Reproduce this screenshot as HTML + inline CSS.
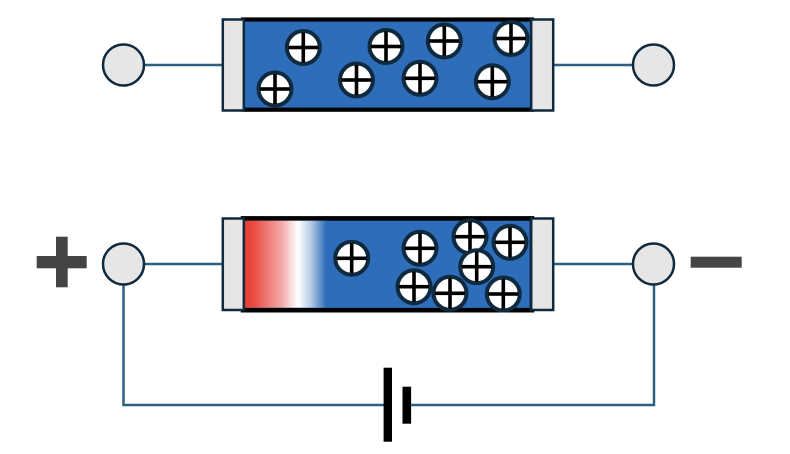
<!DOCTYPE html>
<html>
<head>
<meta charset="utf-8">
<style>
  html, body { margin:0; padding:0; background:#ffffff; }
  body { width:790px; height:454px; overflow:hidden; font-family:"Liberation Sans", sans-serif; }
  svg { display:block; }
</style>
</head>
<body>
<svg width="790" height="454" viewBox="0 0 790 454" xmlns="http://www.w3.org/2000/svg">
  <defs>
    <linearGradient id="grad" x1="244" y1="0" x2="326" y2="0" gradientUnits="userSpaceOnUse">
      <stop offset="0" stop-color="#e8392e"/>
      <stop offset="0.12" stop-color="#eb4d44"/>
      <stop offset="0.45" stop-color="#f3a6a6"/>
      <stop offset="0.66" stop-color="#ffffff"/>
      <stop offset="0.82" stop-color="#b3cbe6"/>
      <stop offset="1" stop-color="#2e6db9"/>
    </linearGradient>
    <g id="p">
      <circle cx="0" cy="0" r="16.5" fill="#ffffff" stroke="#0f2a3f" stroke-width="4"/>
      <rect x="-15" y="-1.8" width="30" height="3.6" fill="#000"/>
      <rect x="-1.8" y="-15" width="3.6" height="30" fill="#000"/>
    </g>
  </defs>

  <!-- ============ TOP ============ -->
  <line x1="145" y1="65" x2="223" y2="65" stroke="#2d5f80" stroke-width="2.5"/>
  <line x1="553" y1="65" x2="633" y2="65" stroke="#2d5f80" stroke-width="2.5"/>
  <circle cx="123.5" cy="65" r="20.5" fill="#e6e6e6" stroke="#0f2a3f" stroke-width="2.5"/>
  <circle cx="653.5" cy="65" r="20.5" fill="#e6e6e6" stroke="#0f2a3f" stroke-width="2.5"/>

  <rect x="243" y="19.5" width="289" height="90.2" fill="#2e6db9" stroke="#000" stroke-width="4.2"/>

  <use href="#p" x="303.3" y="47.5"/>
  <use href="#p" x="275" y="89"/>
  <use href="#p" x="356.5" y="80"/>
  <use href="#p" x="386" y="46.5"/>
  <use href="#p" x="420" y="78.3"/>
  <use href="#p" x="444.3" y="41"/>
  <use href="#p" x="492.3" y="81.7"/>
  <use href="#p" x="511" y="38.5"/>

  <rect x="222.8" y="19.5" width="21" height="91" fill="#e6e6e6" stroke="#0f2a3f" stroke-width="2.5"/>
  <rect x="531.2" y="19.5" width="22" height="91" fill="#e6e6e6" stroke="#0f2a3f" stroke-width="2.5"/>

  <!-- ============ BOTTOM ============ -->
  <!-- circuit wires -->
  <polyline points="123.5,285 123.5,405 386,405" fill="none" stroke="#2d5f80" stroke-width="2.5"/>
  <polyline points="408,405 654,405 654,285" fill="none" stroke="#2d5f80" stroke-width="2.5"/>
  <line x1="145" y1="264" x2="223" y2="264" stroke="#2d5f80" stroke-width="2.5"/>
  <line x1="553" y1="264" x2="633" y2="264" stroke="#2d5f80" stroke-width="2.5"/>
  <circle cx="123.5" cy="264" r="20.5" fill="#e6e6e6" stroke="#0f2a3f" stroke-width="2.5"/>
  <circle cx="653.5" cy="264" r="20.5" fill="#e6e6e6" stroke="#0f2a3f" stroke-width="2.5"/>

  <!-- plus / minus signs -->
  <rect x="36.7" y="256" width="50" height="12.3" fill="#444444"/>
  <rect x="56" y="236.7" width="11.7" height="50.6" fill="#444444"/>
  <rect x="690.7" y="256.7" width="51" height="11" fill="#444444"/>

  <!-- box -->
  <rect x="243" y="218.4" width="289" height="91.8" fill="#2e6db9" stroke="#000" stroke-width="4.6"/>
  <rect x="245" y="220.7" width="81" height="87" fill="url(#grad)"/>

  <use href="#p" x="351.7" y="258.3"/>
  <use href="#p" x="420" y="248.3"/>
  <use href="#p" x="470" y="236.7"/>
  <use href="#p" x="510" y="242.3"/>
  <use href="#p" x="476.7" y="266.7"/>
  <use href="#p" x="414" y="286.7"/>
  <use href="#p" x="450" y="293.3"/>
  <use href="#p" x="503.3" y="294"/>

  <rect x="222.8" y="218.5" width="21" height="91.5" fill="#e6e6e6" stroke="#0f2a3f" stroke-width="2.5"/>
  <rect x="531.2" y="218.5" width="22" height="91.5" fill="#e6e6e6" stroke="#0f2a3f" stroke-width="2.5"/>

  <!-- battery -->
  <rect x="383.6" y="367.7" width="8.4" height="74" fill="#000"/>
  <rect x="402.5" y="386.7" width="8.6" height="37" fill="#000"/>
</svg>
</body>
</html>
